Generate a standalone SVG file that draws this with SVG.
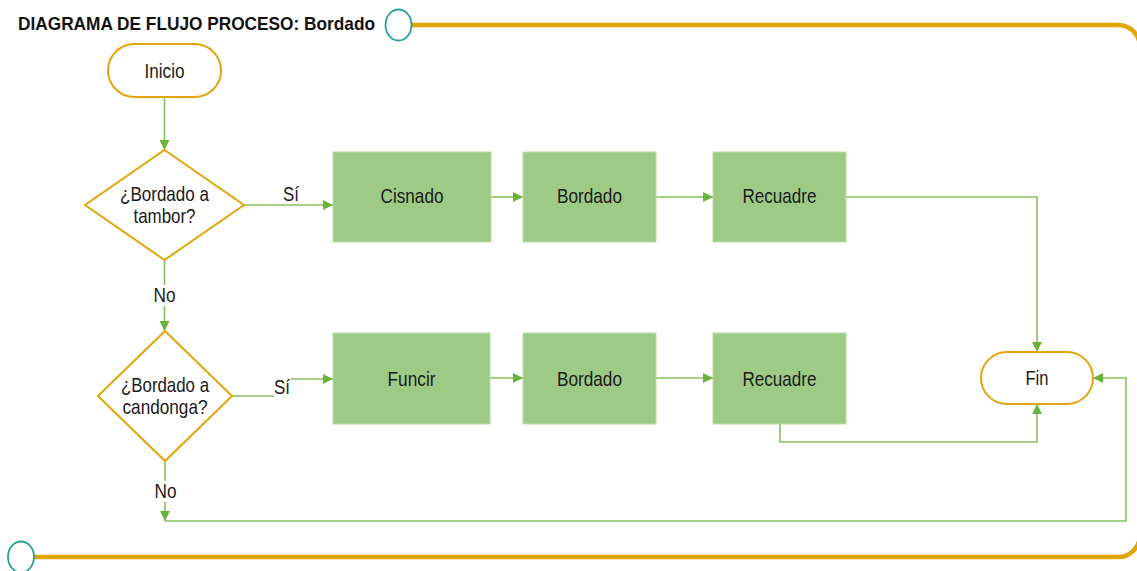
<svg xmlns="http://www.w3.org/2000/svg" width="1137" height="571" viewBox="0 0 1137 571">
  <style>
    .lbl { font-family: "Liberation Sans", Arial, sans-serif; font-size: 21px; fill: #1a1a1a; text-anchor: middle; }
    .title { font-family: "Liberation Sans", Arial, sans-serif; font-size: 19px; font-weight: bold; fill: #111; }
    .term { fill: #ffffff; stroke: #e2a50c; stroke-width: 2; }
    .dec { fill: #ffffff; stroke: #e2a50c; stroke-width: 2; }
    .proc { fill: #9dcb86; stroke: #b9dba6; stroke-width: 1; }
    .conn { fill: none; stroke: #86c05c; stroke-width: 1.6; }
    .frame { fill: none; stroke: #e2a500; stroke-width: 4.5; }
    .ring { fill: #ffffff; stroke: #24a193; stroke-width: 1.8; }
    .bg { fill: #ffffff; }
  </style>
  <defs>
    <marker id="arrow" viewBox="0 0 10 10" refX="10" refY="5" markerWidth="10" markerHeight="10" markerUnits="userSpaceOnUse" orient="auto">
      <path d="M0,0 L10,5 L0,10 Z" fill="#6cb23a"/>
    </marker>
  </defs>

  <!-- page frame -->
  <g id="frame">
    <path class="frame" d="M410 25 H1118 A22 22 0 0 1 1140 47 V535 A22 22 0 0 1 1118 557 H34"/>
    <ellipse class="ring" cx="398.5" cy="25" rx="13" ry="15.5"/>
    <ellipse class="ring" cx="21" cy="557" rx="13" ry="15.5"/>
    <text class="title" x="18" y="30" textLength="357" lengthAdjust="spacingAndGlyphs">DIAGRAMA DE FLUJO PROCESO: Bordado</text>
  </g>

  <!-- connectors -->
  <g id="connectors">
    <path class="conn" d="M140 97 H164.5 V150" marker-end="url(#arrow)"/>
    <path class="conn" d="M244 205 H333" marker-end="url(#arrow)"/>
    <path class="conn" d="M491 197 H523" marker-end="url(#arrow)"/>
    <path class="conn" d="M656 197 H713" marker-end="url(#arrow)"/>
    <path class="conn" d="M846 197 H1037 V352" marker-end="url(#arrow)"/>
    <path class="conn" d="M164.5 260 V331" marker-end="url(#arrow)"/>
    <path class="conn" d="M232 396 H283 V379 H333" marker-end="url(#arrow)"/>
    <path class="conn" d="M490 378 H523" marker-end="url(#arrow)"/>
    <path class="conn" d="M656 378 H713" marker-end="url(#arrow)"/>
    <path class="conn" d="M780 424 V442 H1037 V404" marker-end="url(#arrow)"/>
    <path class="conn" d="M165 461 V521" marker-end="url(#arrow)"/>
    <path class="conn" d="M165 521 H1126 V378 H1093" marker-end="url(#arrow)"/>
    <!-- branch labels -->
    <rect class="bg" x="281" y="184" width="20" height="20"/>
    <text class="lbl" x="291" y="201" textLength="16" lengthAdjust="spacingAndGlyphs">Sí</text>
    <rect class="bg" x="152" y="285" width="25" height="21"/>
    <text class="lbl" x="164.5" y="302" textLength="22" lengthAdjust="spacingAndGlyphs">No</text>
    <rect class="bg" x="274" y="377" width="17" height="22"/>
    <text class="lbl" x="282" y="394" textLength="16" lengthAdjust="spacingAndGlyphs">Sí</text>
    <rect class="bg" x="153" y="481" width="25" height="21"/>
    <text class="lbl" x="165.5" y="498" textLength="22" lengthAdjust="spacingAndGlyphs">No</text>
  </g>

  <g id="inicio">
    <rect class="term" x="108" y="44" width="113" height="53" rx="26.5"/>
    <text class="lbl" x="164.5" y="78" textLength="40" lengthAdjust="spacingAndGlyphs">Inicio</text>
  </g>

  <g id="decision-tambor">
    <polygon class="dec" points="164.5,150 244,205 164.5,260 85,205"/>
    <text class="lbl" x="164.5" y="201" textLength="89" lengthAdjust="spacingAndGlyphs">¿Bordado a</text>
    <text class="lbl" x="164.5" y="223" textLength="62" lengthAdjust="spacingAndGlyphs">tambor?</text>
  </g>

  <g id="cisnado">
    <rect class="proc" x="333" y="152" width="158" height="90"/>
    <text class="lbl" x="412" y="203" textLength="63" lengthAdjust="spacingAndGlyphs">Cisnado</text>
  </g>
  <g id="bordado-1">
    <rect class="proc" x="523" y="152" width="133" height="90"/>
    <text class="lbl" x="589.5" y="203" textLength="65" lengthAdjust="spacingAndGlyphs">Bordado</text>
  </g>
  <g id="recuadre-1">
    <rect class="proc" x="713" y="152" width="133" height="90"/>
    <text class="lbl" x="779.5" y="203" textLength="74" lengthAdjust="spacingAndGlyphs">Recuadre</text>
  </g>

  <g id="decision-candonga">
    <polygon class="dec" points="165,331 232,396 165,461 98,396"/>
    <text class="lbl" x="165" y="392" textLength="88" lengthAdjust="spacingAndGlyphs">¿Bordado a</text>
    <text class="lbl" x="165" y="414" textLength="85" lengthAdjust="spacingAndGlyphs">candonga?</text>
  </g>

  <g id="funcir">
    <rect class="proc" x="333" y="333" width="157" height="91"/>
    <text class="lbl" x="411.5" y="386" textLength="48" lengthAdjust="spacingAndGlyphs">Funcir</text>
  </g>
  <g id="bordado-2">
    <rect class="proc" x="523" y="333" width="133" height="91"/>
    <text class="lbl" x="589.5" y="386" textLength="65" lengthAdjust="spacingAndGlyphs">Bordado</text>
  </g>
  <g id="recuadre-2">
    <rect class="proc" x="713" y="333" width="133" height="91"/>
    <text class="lbl" x="779.5" y="386" textLength="74" lengthAdjust="spacingAndGlyphs">Recuadre</text>
  </g>

  <g id="fin">
    <rect class="term" x="981" y="352" width="112" height="52" rx="26"/>
    <text class="lbl" x="1037" y="385" textLength="23" lengthAdjust="spacingAndGlyphs">Fin</text>
  </g>
</svg>
